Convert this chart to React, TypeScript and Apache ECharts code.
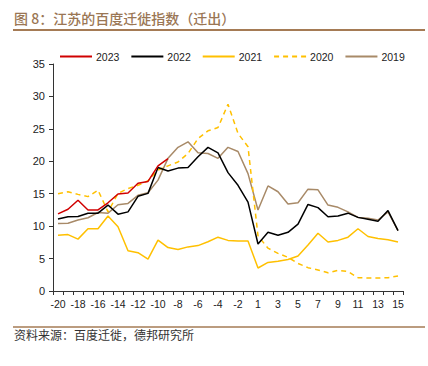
import React, { useEffect, useRef } from "react";
import * as echarts from "echarts";

const categories = [
  "-20", "-19", "-18", "-17", "-16", "-15", "-14", "-13", "-12", "-11",
  "-10", "-9", "-8", "-7", "-6", "-5", "-4", "-3", "-2", "-1",
  "1", "2", "3", "4", "5", "6", "7", "8", "9", "10",
  "11", "12", "13", "14", "15",
];

const s2023 = [11.9, 12.6, 14.0, 12.5, 12.5, 13.6, 14.95, 15.1, 16.6, 16.9, 19.3, 20.4];

const s2022 = [
  11.1, 11.45, 11.5, 12.0, 12.0, 13.25, 11.85, 12.2, 14.6, 15.05,
  19.05, 18.5, 18.95, 19.05, 20.7, 22.15, 21.3, 18.25, 16.3, 13.7,
  7.25, 9.05, 8.6, 9.05, 10.3, 13.35, 12.85, 11.45, 11.55, 12.0,
  11.35, 11.05, 10.75, 12.4, 9.3,
];

const s2021 = [
  8.6, 8.7, 8.0, 9.6, 9.6, 11.55, 9.9, 6.2, 5.9, 4.9,
  7.85, 6.7, 6.4, 6.8, 7.0, 7.6, 8.3, 7.8, 7.7, 7.7,
  3.55, 4.4, 4.6, 4.85, 5.4, 7.1, 8.9, 7.55, 7.8, 8.3,
  9.6, 8.4, 8.1, 7.9, 7.55,
];

const s2020 = [
  15.0, 15.3, 14.9, 14.55, 15.55, 12.2, 15.05, 15.8, 16.3, 17.0,
  18.65, 19.3, 19.9, 21.2, 23.5, 24.7, 25.2, 28.8, 24.3, 22.25,
  8.5, 6.6, 5.8, 5.2, 4.25, 3.6, 3.25, 2.8, 3.2, 3.0,
  2.05, 2.0, 2.0, 2.05, 2.3,
];

const s2019 = [
  10.4, 10.45, 10.95, 11.3, 12.1, 12.0, 13.3, 13.5, 14.75, 15.15,
  17.1, 20.45, 22.15, 23.0, 21.3, 21.2, 20.45, 22.15, 21.5, 18.1,
  12.5, 16.2, 15.3, 13.4, 13.6, 15.7, 15.6, 13.25, 12.9, 12.2,
  11.35, 11.2, 10.95, 12.2, 9.3,
];

const yTicks = [0, 5, 10, 15, 20, 25, 30, 35];

const titleText = "图 8：江苏的百度迁徙指数（迁出）";
const sourceText = "资料来源：百度迁徙，德邦研究所";

const FONT = "'Liberation Sans', Arial, sans-serif";
const CJK = "'Noto Sans CJK SC', sans-serif";

export default function App() {
  const ref = useRef<HTMLDivElement>(null);

  useEffect(() => {
    if (!ref.current) return;
    const chart = echarts.init(ref.current, undefined, { renderer: "svg" });
    const lineSeries = (name: string, data: number[], color: string, dashed = false) => ({
      name,
      type: "line",
      data,
      symbol: "none",
      smooth: false,
      lineStyle: { color, width: 1.5, type: dashed ? [5, 4] : "solid" },
      itemStyle: { color },
    });
    chart.setOption({
      animation: false,
      textStyle: { fontFamily: FONT },
      grid: { left: 53, right: 25, top: 64, bottom: 75, containLabel: false },
      legend: {
        top: 46,
        left: 54,
        itemWidth: 32,
        itemHeight: 10,
        itemGap: 11,
        itemStyle: { color: "transparent", borderWidth: 0, opacity: 0 },
        textStyle: { fontSize: 10.5, color: "#222", fontFamily: FONT, padding: [0, 0, 0, -1] },
        data: ["2023", "2022", "2021", "2020", "2019"],
      },
      xAxis: {
        type: "category",
        data: categories,
        boundaryGap: true,
        axisLine: { lineStyle: { color: "#333", width: 1 } },
        axisTick: { show: true, interval: 0, length: 4, lineStyle: { color: "#333" } },
        axisLabel: { interval: 1, fontSize: 10.5, color: "#222", margin: 7, fontFamily: FONT },
        splitLine: { show: false },
      },
      yAxis: {
        type: "value",
        min: yTicks[0],
        max: yTicks[yTicks.length - 1],
        interval: 5,
        axisLine: { show: true, lineStyle: { color: "#333", width: 1 } },
        axisTick: { show: true, length: 4, lineStyle: { color: "#333" } },
        axisLabel: { fontSize: 11, color: "#222", margin: 8, fontFamily: FONT },
        splitLine: { show: false },
      },
      series: [
        lineSeries("2019", s2019, "#a88a68"),
        lineSeries("2020", s2020, "#ffc000", true),
        lineSeries("2021", s2021, "#ffc000"),
        lineSeries("2022", s2022, "#000000"),
        lineSeries("2023", s2023, "#d00000"),
      ],
      graphic: [
        {
          type: "text",
          left: 14,
          top: 11,
          style: { text: titleText, fontSize: 14, fill: "#9a7654", fontFamily: CJK, fontWeight: 500 },
        },
        {
          type: "line",
          shape: { x1: 13, y1: 30, x2: 425, y2: 30 },
          style: { stroke: "#a57b55", lineWidth: 2 },
        },
        {
          type: "line",
          shape: { x1: 13, y1: 327, x2: 425, y2: 327 },
          style: { stroke: "#a57b55", lineWidth: 1.5 },
        },
        {
          type: "text",
          left: 14,
          top: 328,
          style: { text: sourceText, fontSize: 12, fill: "#333", fontFamily: CJK },
        },
      ],
    });
    return () => chart.dispose();
  }, []);

  return <div ref={ref} style={{ width: 428, height: 366, position: "absolute", left: 0, top: 0 }} />;
}
